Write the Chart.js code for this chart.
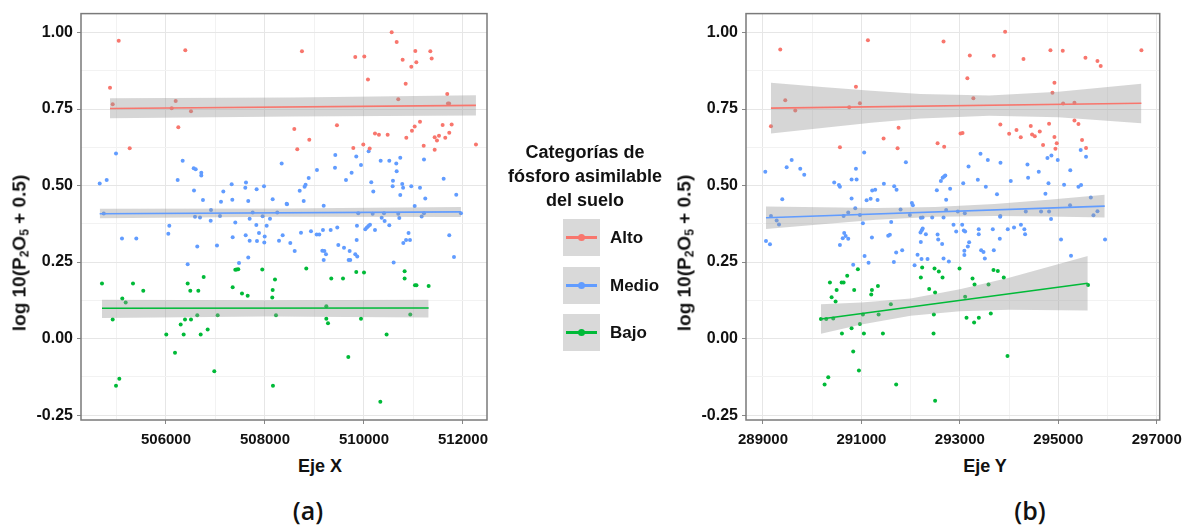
<!DOCTYPE html>
<html>
<head>
<meta charset="utf-8">
<script src="https://cdn.jsdelivr.net/npm/chart.js@4"></script>
<style>
  body { margin: 0; background: #fff; width: 1189px; height: 527px; overflow: hidden; position: relative;
         font-family: 'Liberation Sans', Arial, sans-serif; color: #111; }
  canvas { position: absolute; top: 0; }
  .lbl { position: absolute; white-space: nowrap; transform: translate(-50%, -50%); font-weight: bold; }
  .ytitle { font-size: 19px; transform: translate(-50%, -50%) rotate(-90deg); }
  .ytitle sub { font-size: 12px; vertical-align: -3px; }
  .xtitle { font-size: 18px; }
  .panel { font-size: 25px; font-weight: 600; font-family: 'Open Sans', sans-serif; }
  .legtitle { position: absolute; left: 585px; top: 140px; transform: translateX(-50%); text-align: center;
              font-size: 18px; font-weight: bold; line-height: 24px; white-space: nowrap; }
  .key { position: absolute; left: 563px; width: 37px; height: 37px; background: #d9d9d9; }
  .key .ln { position: absolute; left: 3px; right: 3px; top: 17px; height: 3px; }
  .key .dot { position: absolute; left: 15px; top: 15px; width: 7px; height: 7px; border-radius: 50%; }
  .keylbl { position: absolute; left: 610px; font-size: 17px; font-weight: bold; transform: translateY(-50%); }
</style>
</head>
<body>
<canvas id="chartA" width="500" height="448" style="left:0"></canvas>
<canvas id="chartB" width="529" height="448" style="left:660px"></canvas>

<div class="lbl ytitle" style="left:20px; top:253px">log 10(P<sub>2</sub>O<sub>5</sub> + 0.5)</div>
<div class="lbl ytitle" style="left:685px; top:253px">log 10(P<sub>2</sub>O<sub>5</sub> + 0.5)</div>
<div class="lbl xtitle" style="left:320px; top:466px">Eje X</div>
<div class="lbl xtitle" style="left:985px; top:466px">Eje Y</div>
<div class="lbl panel" style="left:308px; top:510px">(a)</div>
<div class="lbl panel" style="left:1030px; top:510px">(b)</div>

<div class="legtitle">Categorías de<br>fósforo asimilable<br>del suelo</div>
<div id="legend"></div>

<script>
// colours of the three categories (ggplot defaults)
const categories = ['Alto', 'Medio', 'Bajo'];
const colors = ['#F8766D', '#619CFF', '#00BA38'];

// tick positions (labelled ones are every 2000 on x and every 0.25 on y)
const aTicks = [505000, 506000, 507000, 508000, 509000, 510000, 511000, 512000];
const bTicks = [289000, 290000, 291000, 292000, 293000, 294000, 295000, 296000, 297000];
const yTicks = [-0.25, -0.125, 0, 0.125, 0.25, 0.375, 0.5, 0.625, 0.75, 0.875, 1];

// ---- panel (a): Eje X ----
const aAlto = [[505045,0.973],[504869,0.820],[504923,0.766],[506390,0.942],[506196,0.776],[506115,0.753],[506505,0.743],[506249,0.691],[505267,0.622],
  [508747,0.939],[510559,1.001],[510660,0.969],[509824,0.920],[510006,0.922],[510781,0.911],[511037,0.940],[511057,0.903],[510956,0.888],[511340,0.939],[511367,0.915],
  [510080,0.847],[510842,0.833],[510692,0.782],[511682,0.799],[511696,0.768],[511720,0.768],[508592,0.685],[509454,0.697],[508895,0.650],[508652,0.619],
  [509784,0.623],[509986,0.634],[510115,0.621],[510222,0.670],[510302,0.666],[510478,0.666],[510855,0.656],[510969,0.679],[511024,0.693],[511131,0.709],
  [511206,0.630],[511428,0.658],[511474,0.647],[511515,0.663],[511428,0.617],[511589,0.698],[511642,0.656],[511723,0.673],[511771,0.700],[512262,0.634]];
const aMedio = [[504990,0.605],[504661,0.507],[504802,0.518],[506337,0.581],[506236,0.518],[506560,0.557],[506600,0.553],[506713,0.542],[506713,0.533],[506566,0.484],
  [506747,0.453],[507111,0.447],[507158,0.481],[507327,0.504],[507340,0.454],[507616,0.510],[507602,0.493],[507662,0.450],[504742,0.409],[506909,0.420],
  [506067,0.369],[506047,0.343],[505111,0.327],[505400,0.327],[506632,0.301],[507030,0.304],[506438,0.243],[507400,0.379],[507347,0.331],[507610,0.338],
  [507662,0.265],[507475,0.247],[506586,0.398],[506687,0.396],[506903,0.385],[507091,0.401],[507831,0.488],[507980,0.498],[508155,0.455],[508337,0.572],
  [508438,0.441],[508701,0.483],[508800,0.496],[508820,0.503],[508883,0.525],[508782,0.450],[509050,0.551],[509186,0.434],[509420,0.600],[509414,0.558],
  [509636,0.518],[509750,0.542],[509844,0.595],[509939,0.567],[510094,0.612],[510147,0.511],[510188,0.481],[510337,0.581],[510511,0.581],[510652,0.572],
  [510660,0.547],[510733,0.591],[510585,0.516],[510579,0.498],[510773,0.505],[510790,0.493],[510733,0.469],[510955,0.498],[511131,0.493],[511212,0.585],
  [511238,0.458],[511024,0.433],[511609,0.522],[511864,0.470],[507751,0.412],[508248,0.412],[509884,0.410],[510175,0.408],[510404,0.410],[510692,0.408],
  [511212,0.410],[511959,0.410],[507690,0.392],[507952,0.400],[508101,0.392],[510357,0.395],[510417,0.384],[510713,0.394],[511165,0.399],[508444,0.439],
  [507825,0.371],[508034,0.369],[507879,0.345],[507994,0.334],[507690,0.320],[507838,0.319],[507986,0.314],[508357,0.338],[508283,0.320],[508727,0.346],
  [508929,0.351],[509044,0.340],[509097,0.340],[509171,0.355],[509327,0.355],[509460,0.363],[508511,0.312],[508600,0.286],[509481,0.306],[509596,0.297],
  [509710,0.286],[509158,0.287],[509200,0.286],[509232,0.276],[509186,0.257],[509690,0.257],[509723,0.257],[509824,0.276],[509864,0.268],[509858,0.369],
  [509852,0.322],[510026,0.357],[510060,0.363],[510090,0.368],[510121,0.372],[510222,0.355],[510511,0.370],[510599,0.249],[510794,0.312],[510850,0.322],
  [510900,0.345],[510929,0.322],[511723,0.338],[511818,0.267]];
const aBajo = [[504707,0.180],[505333,0.180],[505541,0.156],[505117,0.131],[505186,0.118],[504923,0.062],[505057,-0.131],[504990,-0.154],[506438,0.180],[506761,0.201],
  [506491,0.156],[506653,0.156],[506632,0.076],[507044,0.076],[506384,0.062],[506505,0.062],[506297,0.046],[506006,0.013],[506357,0.013],[506701,0.013],
  [506842,0.030],[506182,-0.046],[506976,-0.107],[507347,0.168],[507400,0.225],[507430,0.226],[507460,0.227],[507535,0.147],[507650,0.140],[507945,0.226],
  [508202,0.193],[508155,0.159],[508147,0.134],[508222,0.076],[508161,-0.154],[508834,0.229],[509339,0.196],[509576,0.196],[509844,0.218],[510000,0.216],
  [509239,0.106],[509239,0.065],[509273,0.050],[509939,0.065],[509683,-0.060],[510457,0.013],[510330,-0.206],[510821,0.220],[510821,0.196],[511030,0.174],
  [511060,0.174],[511306,0.172],[510935,0.079]];
// fitted lines [x, y] and confidence bands [x, lower, upper]
const aAltoFit = [[504869,0.752],[512262,0.762]];
const aMedioFit = [[504661,0.408],[511959,0.414]];
const aBajoFit = [[504707,0.099],[511306,0.100]];
const aAltoBand = [[504869,0.720,0.785],[508565,0.726,0.788],[512262,0.729,0.795]];
const aMedioBand = [[504661,0.393,0.424],[508310,0.398,0.425],[511959,0.397,0.430]];
const aBajoBand = [[504707,0.067,0.127],[508000,0.072,0.125],[511306,0.069,0.127]];

// ---- panel (b): Eje Y ----
const bAlto = [[289351,0.945],[291132,0.975],[289162,0.694],[289453,0.779],[289656,0.745],[290888,0.823],[290752,0.756],[290969,0.769],[290563,0.625],[291450,0.654],
  [291755,0.689],[291734,0.622],[292668,0.971],[293919,1.003],[293202,0.925],[293689,0.924],[294292,0.914],[294840,0.942],[295090,0.941],[295551,0.918],
  [295795,0.907],[295861,0.891],[296688,0.942],[293152,0.851],[293274,0.785],[294921,0.836],[294881,0.803],[295097,0.768],[295328,0.771],[293822,0.700],
  [295328,0.713],[295409,0.701],[293013,0.670],[293054,0.672],[294001,0.669],[294150,0.682],[294237,0.658],[294440,0.695],[294467,0.667],[294522,0.661],
  [294623,0.677],[294812,0.702],[294690,0.633],[294921,0.659],[294968,0.638],[294941,0.620],[295482,0.649],[295563,0.623],[292547,0.638],[292681,0.627]];
const bMedio = [[289047,0.545],[289481,0.560],[289583,0.584],[289757,0.555],[289838,0.535],[289392,0.455],[290447,0.510],[290543,0.502],[290563,0.496],[290800,0.520],
  [290902,0.520],[290888,0.555],[291056,0.608],[290800,0.458],[291105,0.452],[291187,0.457],[291219,0.484],[291280,0.486],[291328,0.453],[291456,0.506],
  [291666,0.498],[291714,0.486],[291903,0.576],[292025,0.443],[292045,0.436],[290875,0.426],[290732,0.412],[290969,0.404],[291795,0.422],[292207,0.395],
  [293419,0.604],[293568,0.584],[293825,0.575],[293176,0.562],[294373,0.569],[294603,0.545],[294386,0.526],[294779,0.590],[294860,0.598],[294988,0.584],
  [295455,0.616],[295563,0.594],[295243,0.550],[293068,0.508],[293365,0.519],[293527,0.496],[294034,0.515],[294800,0.508],[295117,0.503],[295409,0.496],
  [295462,0.502],[293754,0.472],[294738,0.473],[292532,0.485],[292614,0.515],[292650,0.526],[292680,0.530],[292704,0.533],[292802,0.490],[292721,0.454],
  [295660,0.461],[295238,0.436],[295795,0.416],[295714,0.403],[294339,0.415],[294650,0.415],[294812,0.415],[292721,0.420],[292958,0.415],[293100,0.410],
  [293822,0.401],[294852,0.391],[289061,0.319],[289142,0.308],[289162,0.401],[289278,0.386],[289325,0.373],[290638,0.401],[291030,0.377],[291605,0.381],
  [291984,0.404],[290650,0.345],[290680,0.335],[290732,0.326],[290620,0.328],[290563,0.306],[291213,0.330],[291544,0.336],[291578,0.339],[290833,0.241],
  [291145,0.248],[291064,0.270],[291706,0.281],[291828,0.289],[291659,0.250],[292140,0.274],[292080,0.240],[292200,0.347],[292225,0.354],[292245,0.360],
  [292207,0.316],[292221,0.260],[292343,0.260],[292309,0.341],[292668,0.262],[292776,0.252],[292640,0.309],[292547,0.340],[292560,0.324],[292871,0.372],
  [292925,0.350],[293047,0.372],[293080,0.353],[293107,0.350],[293188,0.315],[293162,0.301],[293091,0.287],[293091,0.273],[293383,0.357],[293383,0.341],
  [293432,0.289],[293480,0.283],[293507,0.262],[293669,0.357],[293689,0.289],[293811,0.326],[293973,0.357],[294100,0.363],[294240,0.372],[294310,0.357],
  [294325,0.341],[293818,0.398],[292668,0.396],[292438,0.396],[292242,0.396],[295055,0.324],[295258,0.271],[295949,0.324]];
const bBajo = [[290360,0.183],[290598,0.183],[290638,0.183],[290711,0.205],[290928,0.227],[290496,0.159],[290853,0.159],[291213,0.159],[291199,0.144],[291335,0.172],
  [290394,0.135],[290475,0.121],[291598,0.112],[291349,0.079],[291030,0.079],[290177,0.064],[290285,0.064],[290427,0.066],[290604,0.017],[290800,0.034],
  [290969,0.048],[291050,0.017],[291436,0.017],[290833,-0.042],[290949,-0.104],[290326,-0.126],[290252,-0.150],[291706,-0.150],[292234,0.232],[292207,0.200],
  [292376,0.162],[292485,0.229],[292572,0.219],[292648,0.200],[292993,0.229],[293257,0.196],[293298,0.177],[293582,0.177],[293683,0.224],[293771,0.221],
  [293892,0.200],[292497,0.151],[293107,0.137],[292471,0.079],[293135,0.068],[293289,0.053],[293385,0.068],[293628,0.082],[292465,0.017],[293967,-0.057],
  [292497,-0.203],[295604,0.175]];
const bAltoFit = [[289162,0.753],[296688,0.769]];
const bMedioFit = [[289061,0.395],[295943,0.433]];
const bBajoFit = [[290177,0.064],[295598,0.181]];
const bAltoBand = [[289162,0.670,0.836],[290200,0.688,0.822],[291200,0.705,0.810],[292200,0.719,0.799],[293600,0.728,0.794],[295000,0.723,0.807],[296688,0.704,0.833]];
const bMedioBand = [[289061,0.358,0.432],[290200,0.374,0.429],[291300,0.388,0.427],[292500,0.398,0.430],[293700,0.401,0.440],[294800,0.399,0.454],[295943,0.396,0.470]];
const bBajoBand = [[290177,0.016,0.112],[291000,0.046,0.118],[292000,0.075,0.131],[293000,0.089,0.161],[294000,0.094,0.199],[295598,0.092,0.270]];

const yMin = -0.266, yMax = 1.062;

Chart.defaults.font.family = "'Liberation Sans', Arial, sans-serif";

function buildDatasets(points, fits, bands) {
    const sets = [];
    points.forEach((pts, i) => {
        sets.push({
            data: pts.map(p => ({ x: p[0], y: p[1] })),
            showLine: false, pointRadius: 2, pointBorderWidth: 0,
            pointBackgroundColor: colors[i], order: 3
        });
        sets.push({
            data: bands[i].map(b => ({ x: b[0], y: b[1] })),
            showLine: true, borderWidth: 0, pointRadius: 0, fill: false, order: 2
        });
        sets.push({
            data: bands[i].map(b => ({ x: b[0], y: b[2] })),
            showLine: true, borderWidth: 0, pointRadius: 0, fill: '-1',
            backgroundColor: 'rgba(153,153,153,0.4)', order: 2
        });
        sets.push({
            data: fits[i].map(p => ({ x: p[0], y: p[1] })),
            showLine: true, borderWidth: 1.6, borderColor: colors[i], pointRadius: 0, fill: false, order: 1
        });
    });
    return sets;
}

// frame round the plotting area
const framePlugin = {
    id: 'frame',
    beforeDatasetsDraw(chart) {
        const a = chart.chartArea, ctx = chart.ctx;
        ctx.save();
        ctx.strokeStyle = '#7a7a7a';
        ctx.lineWidth = 1.5;
        ctx.strokeRect(a.left, a.top, a.right - a.left, a.bottom - a.top);
        ctx.restore();
    }
};

function makePanel(canvasId, points, fits, bands, xTicks, xMin, xMax, oddLabels, yWidth, padRight) {
    const isMajorX = v => (Math.round(v / 1000) % 2 === 1) === oddLabels;
    const isMajorY = v => Math.abs(Math.round(v * 4) - v * 4) < 1e-6;
    new Chart(document.getElementById(canvasId), {
        type: 'line',
        data: { datasets: buildDatasets(points, fits, bands) },
        options: {
            responsive: false,
            animation: false,
            events: [],
            layout: { padding: { left: 0, top: 12, right: padRight, bottom: 0 } },
            plugins: { legend: { display: false }, tooltip: { enabled: false } },
            scales: {
                x: {
                    type: 'linear', min: xMin, max: xMax,
                    afterBuildTicks: s => { s.ticks = xTicks.map(v => ({ value: v })); },
                    afterFit: s => { s.height = 28; },
                    border: { display: false },
                    grid: {
                        color: c => isMajorX(c.tick.value) ? '#e6e6e6' : '#f2f2f2',
                        tickColor: c => isMajorX(c.tick.value) ? '#888' : 'rgba(0,0,0,0)',
                        tickLength: 4
                    },
                    ticks: {
                        autoSkip: false, maxRotation: 0, padding: 7,
                        color: '#111', font: { size: 15, weight: 'bold' },
                        callback: v => isMajorX(v) ? String(v) : ''
                    }
                },
                y: {
                    type: 'linear', min: yMin, max: yMax,
                    afterBuildTicks: s => { s.ticks = yTicks.map(v => ({ value: v })); },
                    afterFit: s => { s.width = yWidth; },
                    border: { display: false },
                    grid: {
                        color: c => isMajorY(c.tick.value) ? '#e6e6e6' : '#f2f2f2',
                        tickColor: c => isMajorY(c.tick.value) ? '#888' : 'rgba(0,0,0,0)',
                        tickLength: 4
                    },
                    ticks: {
                        autoSkip: false, padding: 4,
                        color: '#111', font: { size: 16, weight: 'bold' },
                        callback: v => isMajorY(v) ? v.toFixed(2) : ''
                    }
                }
            }
        },
        plugins: [framePlugin]
    });
}

makePanel('chartA', [aAlto, aMedio, aBajo], [aAltoFit, aMedioFit, aBajoFit], [aAltoBand, aMedioBand, aBajoBand],
          aTicks, 504283, 512485, false, 81, 13);
makePanel('chartB', [bAlto, bMedio, bBajo], [bAltoFit, bMedioFit, bBajoFit], [bAltoBand, bMedioBand, bBajoBand],
          bTicks, 288655, 297060, true, 86, 29);

// legend keys
const keyTops = [219, 267, 314];
const legend = document.getElementById('legend');
categories.forEach((name, i) => {
    legend.innerHTML +=
        `<div class="key" style="top:${keyTops[i]}px"><div class="ln" style="background:${colors[i]}"></div>` +
        `<div class="dot" style="background:${colors[i]}"></div></div>` +
        `<div class="keylbl" style="top:${keyTops[i] + 19}px">${name}</div>`;
});
</script>
</body>
</html>
